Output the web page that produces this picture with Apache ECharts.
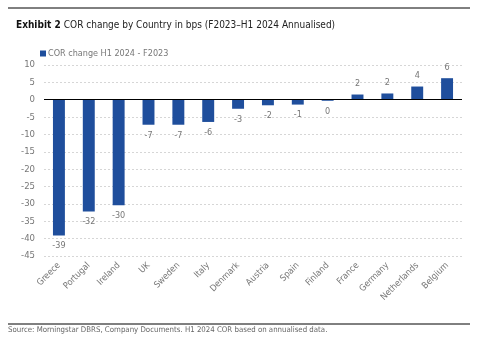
<!DOCTYPE html>
<html><head><meta charset="utf-8">
<script src="https://cdn.jsdelivr.net/npm/echarts@6/dist/echarts.min.js"></script>
<style>html,body{margin:0;padding:0;background:#fff}#c{width:495px;height:352px}</style>
</head><body><div id="c"></div>
<script>
const categories = ["Greece","Portugal","Ireland","UK","Sweden","Italy","Denmark","Austria","Spain","Finland","France","Germany","Netherlands","Belgium"];
const corChange = [-39.1,-32.2,-30.4,-7.2,-7.2,-6.4,-2.6,-1.6,-1.4,-0.3,1.5,1.8,3.8,6.2];
const seriesName = "COR change H1 2024 - F2023";
const yTicks = {min:-45, max:10, interval:5};
const FONT = '"Liberation Sans Narrow","DejaVu Sans Condensed",sans-serif';
const chart = echarts.init(document.getElementById('c'), null, {renderer:'canvas'});
chart.setOption({
  animation:false,
  backgroundColor:'#fff',
  title:{
    text:'{b|Exhibit 2 }{n|COR change by Country in bps (F2023\u2013H1 2024 Annualised)}',
    left:11, top:15,
    textStyle:{fontWeight:'normal',fontFamily:FONT,fontSize:10,rich:{
      b:{fontFamily:FONT,fontWeight:'bold',fontSize:10,color:'#111'},
      n:{fontFamily:FONT,fontWeight:'normal',fontSize:10,color:'#222'}
    }}
  },
  legend:{
    left:35, top:44, itemWidth:6, itemHeight:6, icon:'rect', itemGap:4,
    textStyle:{fontFamily:FONT,fontSize:9,color:'#777',padding:[0,0,0,-3]},
    data:[seriesName]
  },
  graphic:[
    {type:'line',shape:{x1:8,y1:8,x2:470,y2:8},style:{stroke:'#000',lineWidth:1}},
    {type:'line',shape:{x1:8,y1:324,x2:470,y2:324},style:{stroke:'#000',lineWidth:1}},
    {type:'text',left:8,top:326,style:{text:'Source: Morningstar DBRS, Company Documents. H1 2024 COR based on annualised data.',font:'7.8px '+FONT,fill:'#666'}}
  ],
  grid:{left:44,right:33,top:65,bottom:96},
  xAxis:{
    type:'category', data:categories,
    axisLine:{show:false,onZero:false}, axisTick:{show:false},
    axisLabel:{rotate:45,interval:0,fontFamily:FONT,fontSize:9,color:'#777',margin:8}
  },
  yAxis:{
    type:'value', min:yTicks.min, max:yTicks.max, interval:yTicks.interval,
    axisLine:{show:false}, axisTick:{show:false},
    axisLabel:{fontFamily:FONT,fontSize:9.5,color:'#777',margin:9},
    splitLine:{lineStyle:{color:'#d6d6d6',type:[2,2],width:1}}
  },
  series:[{
    name:seriesName, type:'bar', data:corChange, barWidth:'40%',
    itemStyle:{color:'#1f4e9c'},
    label:{show:true,position:'outside',distance:6,fontFamily:FONT,fontSize:9,color:'#777',
      formatter:p=>String(Math.round(p.value))},
    markLine:{silent:true,symbol:'none',label:{show:false},
      lineStyle:{color:'#000',type:'solid',width:1.2},data:[{yAxis:0}]}
  }]
});
</script></body></html>
